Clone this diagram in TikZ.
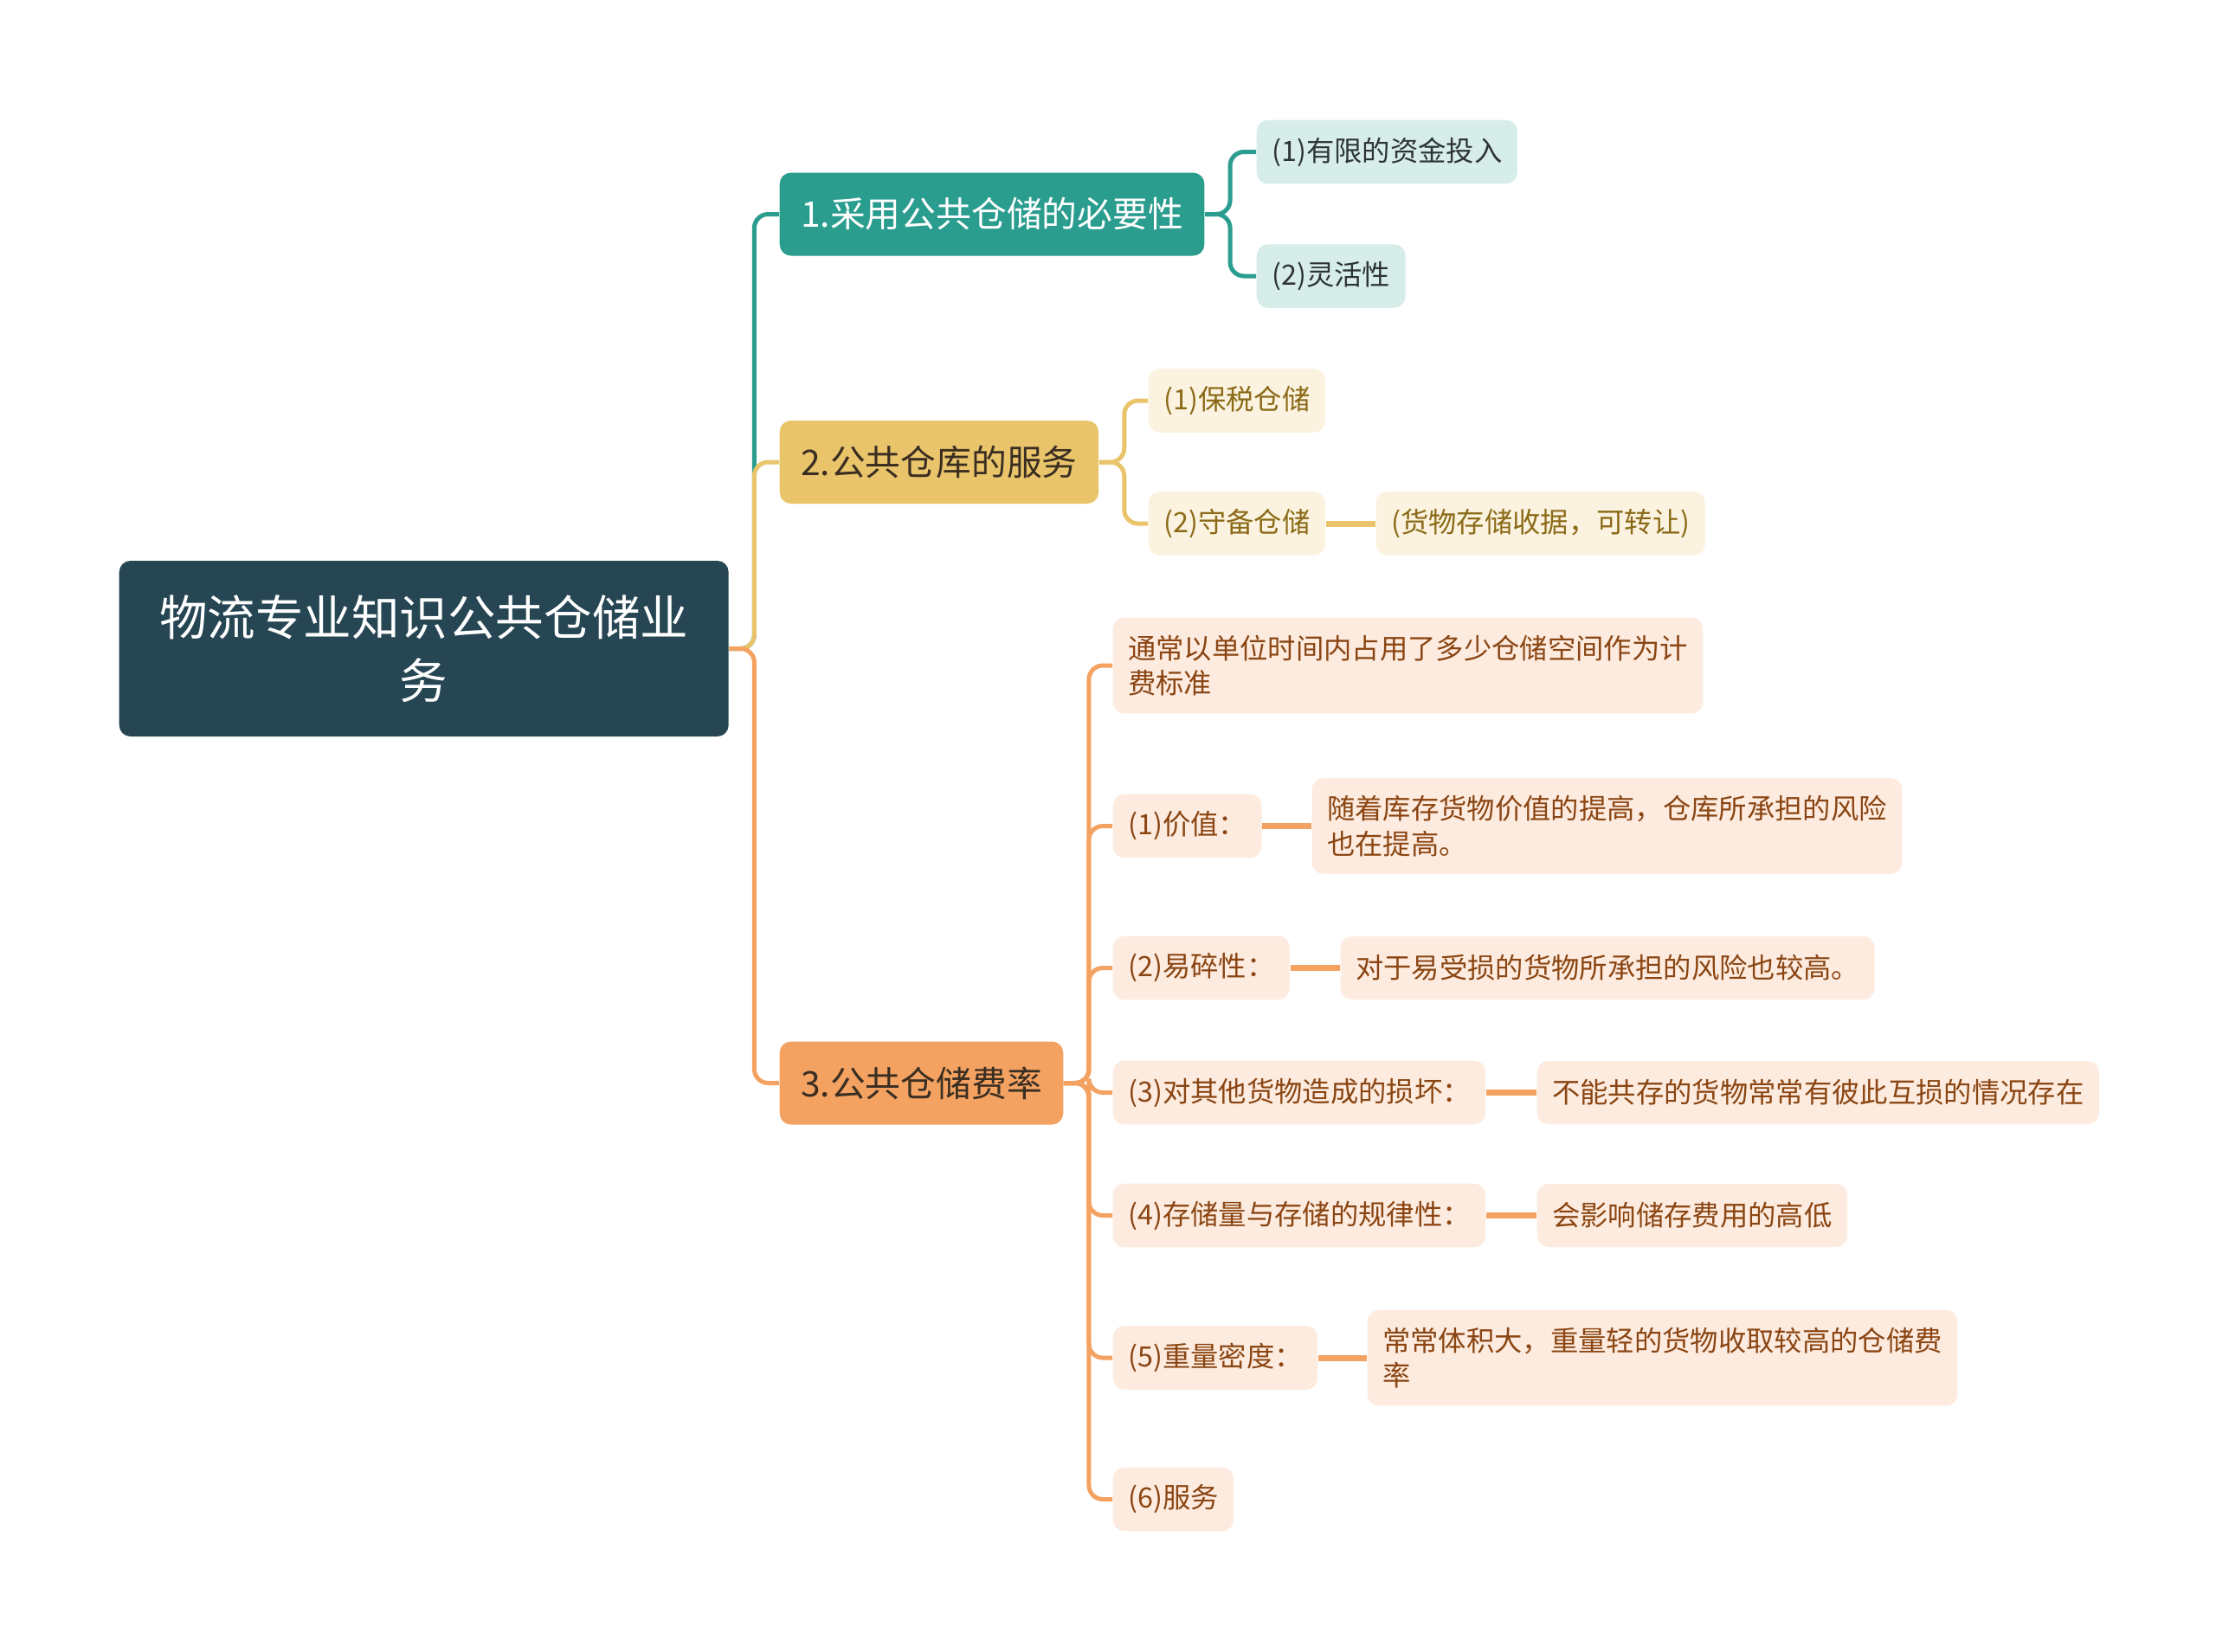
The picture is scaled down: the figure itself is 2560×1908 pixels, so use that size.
\documentclass[tikz,border=0pt]{standalone}
\usepackage{fontspec}
\setmainfont{Noto Sans CJK SC}
\usepackage{xcolor}
\usepackage{tikz}
\usetikzlibrary{
  arrows.meta,
  shapes,
  positioning,
  calc,
  backgrounds
}
\definecolor{wlDark}{HTML}{264653}
\definecolor{wlTeal}{HTML}{2A9D8F}
\definecolor{wlGold}{HTML}{E9C46A}
\definecolor{wlOrange}{HTML}{F4A261}
\definecolor{wlTealLight}{HTML}{D6EDEA}
\definecolor{wlGoldLight}{HTML}{FBF3E0}
\definecolor{wlOrangeLight}{HTML}{FDEBDF}
\definecolor{wlInk}{HTML}{3A2E22}
\definecolor{wlTealInk}{HTML}{2E3436}
\definecolor{wlGoldInk}{HTML}{8B6A17}
\definecolor{wlOrangeInk}{HTML}{8A4512}
\tikzset{
  wlnode/.style={
    rounded corners=1.3mm, anchor=west, align=left, inner ysep=2mm
  },
  wlroot/.style={
    wlnode, fill=wlDark, text=white, align=center, minimum width=70.4mm,
    minimum height=20.3mm, font=\fontsize{15.8}{20.8}\selectfont
  },
  wlmain/.style={
    wlnode, minimum height=9.6mm, inner xsep=2.45mm,
    font=\fontsize{11.6}{14}\selectfont
  },
  wlleaf/.style={
    wlnode, minimum height=7.3mm, inner xsep=1.75mm,
    font=\fontsize{9.2}{11.6}\selectfont
  },
  tealmain/.style={wlmain, fill=wlTeal, text=white},
  goldmain/.style={wlmain, fill=wlGold, text=wlInk},
  orangemain/.style={wlmain, fill=wlOrange, text=wlInk},
  tealleaf/.style={wlleaf, fill=wlTealLight, text=wlTealInk},
  goldleaf/.style={wlleaf, fill=wlGoldLight, text=wlGoldInk},
  orangeleaf/.style={wlleaf, fill=wlOrangeLight, text=wlOrangeInk},
  branchline/.style={line width=0.5mm, rounded corners=1.6mm},
  detailline/.style={line width=0.7mm}
}

\begin{document}
\begin{tikzpicture}[x=0.1mm, y=-0.1mm]
  \useasboundingbox (0,0) rectangle (2560,1908);

  % root and the three main topics
  \node[wlroot] (root) at (137,749.5) {物流专业知识公共仓储业\\务};
  \node[tealmain] (b1) at (900,247.5) {1.采用公共仓储的必要性};
  \node[goldmain] (b2) at (900,534) {2.公共仓库的服务};
  \node[orangemain] (b3) at (900,1251.5) {3.公共仓储费率};

  \draw[branchline, wlTeal] (root.east) -- ++(29,0) |- (b1.west);
  \draw[branchline, wlGold] (root.east) -- ++(29,0) |- (b2.west);
  \draw[branchline, wlOrange] (root.east) -- ++(29,0) |- (b3.west);

  % topic 1
  \node[tealleaf] (t1) at (1451,175.5) {(1)有限的资金投入};
  \node[tealleaf] (t2) at (1451,319) {(2)灵活性};
  \foreach \n in {1,2}{
    \draw[branchline, wlTeal] (b1.east) -- ++(29,0) |- (t\n.west);
  }

  % topic 2
  \node[goldleaf] (g1) at (1326,463) {(1)保税仓储};
  \node[goldleaf] (g2) at (1326,605) {(2)守备仓储};
  \node[goldleaf] (g2-d) at (1589,605) {(货物存储收据，可转让)};
  \foreach \n in {1,2}{
    \draw[branchline, wlGold] (b2.east) -- ++(29,0) |- (g\n.west);
  }
  \draw[detailline, wlGold] (g2) -- (g2-d);

  % topic 3
  \node[orangeleaf] (o0) at (1285,769) {通常以单位时间内占用了多少仓储空间作为计\\费标准};
  \foreach \n/\yy/\lbl/\dx/\dtxt in {
    1/954.5/{(1)价值：}/1515/{随着库存货物价值的提高，仓库所承担的风险\\也在提高。},
    2/1118.5/{(2)易碎性：}/1548/{对于易受损的货物所承担的风险也较高。},
    3/1262.5/{(3)对其他货物造成的损坏：}/1775/{不能共存的货物常常有彼此互损的情况存在},
    4/1404.5/{(4)存储量与存储的规律性：}/1775/{会影响储存费用的高低},
    5/1569/{(5)重量密度：}/1579/{常常体积大，重量轻的货物收取较高的仓储费\\率}}{
    \node[orangeleaf] (o\n) at (1285,\yy) {\lbl};
    \node[orangeleaf] (o\n-d) at (\dx,\yy) {\dtxt};
    \draw[detailline, wlOrange] (o\n) -- (o\n-d);
  }
  \node[orangeleaf] (o6) at (1285,1732.5) {(6)服务};
  \foreach \n in {0,...,6}{
    \draw[branchline, wlOrange] (b3.east) -- ++(29,0) |- (o\n.west);
  }
\end{tikzpicture}
\end{document}
